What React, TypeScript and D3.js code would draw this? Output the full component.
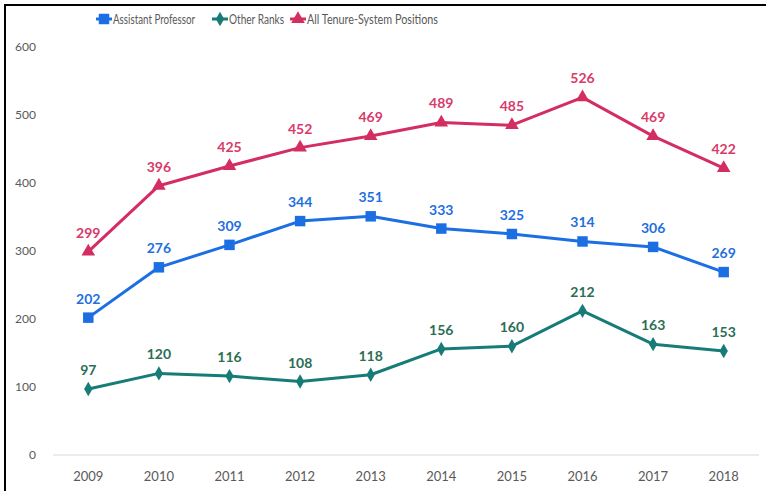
import * as d3 from 'd3';

const years = ['2009', '2010', '2011', '2012', '2013', '2014', '2015', '2016', '2017', '2018'];
const assistantProfessor = [202, 276, 309, 344, 351, 333, 325, 314, 306, 269];
const otherRanks = [97, 120, 116, 108, 118, 156, 160, 212, 163, 153];
const allTenure = [299, 396, 425, 452, 469, 489, 485, 526, 469, 422];
const yTicks = [0, 100, 200, 300, 400, 500, 600];

const W = 767;
const H = 491;
const FONT = 'Lato, "Open Sans", sans-serif';

type Series = { name: string; values: number[]; color: string; labelColor: string; marker: 'square' | 'diamond' | 'triangle' };

const series: Series[] = [
  { name: 'Assistant Professor', values: assistantProfessor, color: '#1c6fe3', labelColor: '#1f6fe0', marker: 'square' },
  { name: 'Other Ranks', values: otherRanks, color: '#177b77', labelColor: '#2c6e55', marker: 'diamond' },
  { name: 'All Tenure-System Positions', values: allTenure, color: '#d42d62', labelColor: '#d83a6a', marker: 'triangle' },
];

function markerPath(kind: Series['marker']) {
  const type = kind === 'square' ? d3.symbolSquare : kind === 'diamond' ? d3.symbolDiamond : d3.symbolTriangle;
  const size = kind === 'square' ? 110 : kind === 'diamond' ? 60 : 80;
  return d3.symbol(type, size)() as string;
}

export default function App() {
  const x = d3.scaleBand<string>().domain(years).range([53, 759]);
  const y = d3.scaleLinear().domain([0, 600]).range([455, 47]);
  const cx = (yr: string) => (x(yr) as number) + x.bandwidth() / 2;

  const line = d3.line<number>()
    .x((_, i) => cx(years[i]))
    .y(d => y(d));

  // legend: marker start and text width
  const legendItems = [
    { s: series[0], x: 96, w: 82 },
    { s: series[1], x: 212, w: 55 },
    { s: series[2], x: 290, w: 131 },
  ];

  return (
    <svg width={W} height={H} style={{ display: 'block', position: 'absolute', left: 0, top: 0, background: '#fff' }} fontFamily={FONT}>
      {/* frame */}
      <line x1={5} x2={766} y1={5} y2={5} stroke="#000" strokeWidth={2} />
      <line x1={5} x2={5} y1={4} y2={491} stroke="#000" strokeWidth={2} />

      {/* legend */}
      {legendItems.map(({ s, x: lx, w }) => (
        <g key={s.name} transform={`translate(${lx},19)`}>
          <line x1={0} x2={16} y1={0} y2={0} stroke={s.color} strokeWidth={3} />
          <path d={markerPath(s.marker)} transform="translate(8,0)" fill={s.color} />
          <text x={17} y={4.5} fontSize={13} fill="#595959" textLength={w} lengthAdjust="spacingAndGlyphs">{s.name}</text>
        </g>
      ))}

      {/* y axis labels */}
      {yTicks.map(t => (
        <text key={t} x={36} y={y(t) + 4} textAnchor="end" fontSize={12} fill="#595959">{t}</text>
      ))}

      {/* baseline */}
      <line x1={53} x2={759} y1={y(0)} y2={y(0)} stroke="#d9d9d9" strokeWidth={1} />

      {/* x axis labels */}
      {years.map(yr => (
        <text key={yr} x={cx(yr)} y={481} textAnchor="middle" fontSize={13} fill="#595959">{yr}</text>
      ))}

      {series.map(s => (
        <g key={s.name}>
          <path d={line(s.values) as string} fill="none" stroke={s.color} strokeWidth={3} strokeLinejoin="round" />
          {s.values.map((v, i) => (
            <path key={i} d={markerPath(s.marker)} transform={`translate(${cx(years[i])},${y(v)})`} fill={s.color} />
          ))}
          {s.values.map((v, i) => (
            <text key={'l' + i} x={cx(years[i])} y={y(v) - 14} textAnchor="middle" fontSize={14} fontWeight="bold" fill={s.labelColor}>{v}</text>
          ))}
        </g>
      ))}
    </svg>
  );
}
